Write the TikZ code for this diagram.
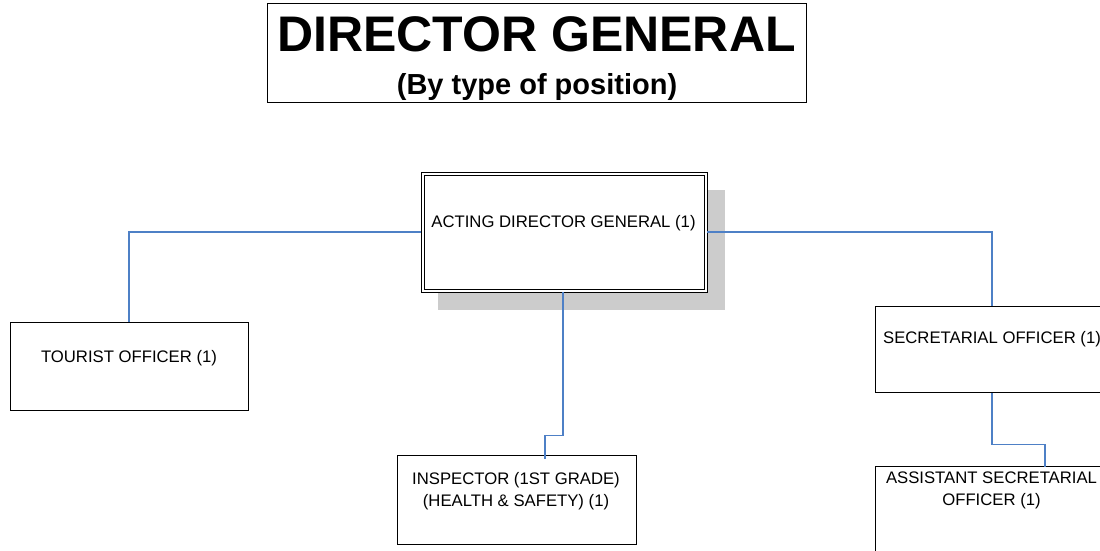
\documentclass[tikz,border=0pt]{standalone}
\usepackage{fontspec}
\setmainfont{Liberation Sans}
\definecolor{conn}{RGB}{78,128,198}
\definecolor{shadowgray}{RGB}{204,204,204}
\tikzset{
  posbox/.style={draw=black, line width=0.9pt, fill=white, inner sep=0pt},
  conline/.style={draw=conn, line width=1.4pt, line cap=rect},
  boxtext/.style={inner sep=0pt, anchor=center, font=\fontsize{16.7}{21.5}\selectfont, align=center},
}
\begin{document}
\begin{tikzpicture}[x=1pt,y=-1pt]
\useasboundingbox (0,0) rectangle (1100,551);
\clip (0,0) rectangle (1100,551);
% title
\node[posbox, minimum width=539pt, minimum height=99pt, anchor=north west] (title) at (267,3) {};
\node[inner sep=0pt, anchor=base, font=\fontsize{50}{60}\selectfont\bfseries] (titletext) at (536.5,51.7) {DIRECTOR GENERAL};
\node[inner sep=0pt, anchor=base, font=\fontsize{29}{34}\selectfont\bfseries] (subtext) at (537,95) {(By type of position)};
% shadow
\fill[shadowgray] (437.7,190) rectangle (725,310);
% acting director general (double border)
\node[posbox, minimum width=286pt, minimum height=119.4pt, anchor=north west] (adg) at (420.7,172.3) {};
\draw[black, line width=0.9pt] ([xshift=3.3pt,yshift=-3.3pt]adg.north west) rectangle ([xshift=-3.3pt,yshift=3.3pt]adg.south east);
\node[boxtext] (adgt) at (563.5,223) {ACTING DIRECTOR GENERAL (1)};
% other boxes
\node[posbox, minimum width=238pt, minimum height=88.5pt, anchor=north west] (tour) at (10,321.7) {};
\node[boxtext] (tourt) at (129,358.5) {TOURIST OFFICER (1)};
\node[posbox, minimum width=239pt, minimum height=89pt, anchor=north west] (insp) at (396.7,455) {};
\node[boxtext] (inspt) at (516,491) {INSPECTOR (1ST GRADE)\\(HEALTH \& SAFETY) (1)};
\node[posbox, minimum width=238pt, minimum height=86.6pt, anchor=north west] (sec) at (875,305.7) {};
\node[boxtext] (sect) at (992,339) {SECRETARIAL OFFICER (1)};
\node[posbox, minimum width=238pt, minimum height=89pt, anchor=north west] (asst) at (875,466) {};
\node[boxtext] (asstt) at (991.5,490.5) {ASSISTANT SECRETARIAL\\OFFICER (1)};
% connectors
\coordinate (lx) at (129,0);
\coordinate (rx) at (992,0);
\coordinate (ba) at (563,0);
\coordinate (ib) at (545,435.5);
\coordinate (ab) at (1045,444.5);
\coordinate (ibt) at (563,435.5);
\coordinate (abt) at (992,444.5);
\draw[conline] (adg.west |- 0,232) -| (tour.north -| lx);
\draw[conline] (adg.east |- 0,232) -| (sec.north -| rx);
\draw[conline] (adg.south -| ba) -- (ibt);
\draw[conline] (ibt) -- (ib);
\draw[conline] (ib) -- ([yshift=-3pt]insp.north -| ib);
\draw[conline] (sec.south -| rx) -- (abt);
\draw[conline] (abt) -- (ab);
\draw[conline] (ab) -- (asst.north -| ab);
\end{tikzpicture}
\end{document}
